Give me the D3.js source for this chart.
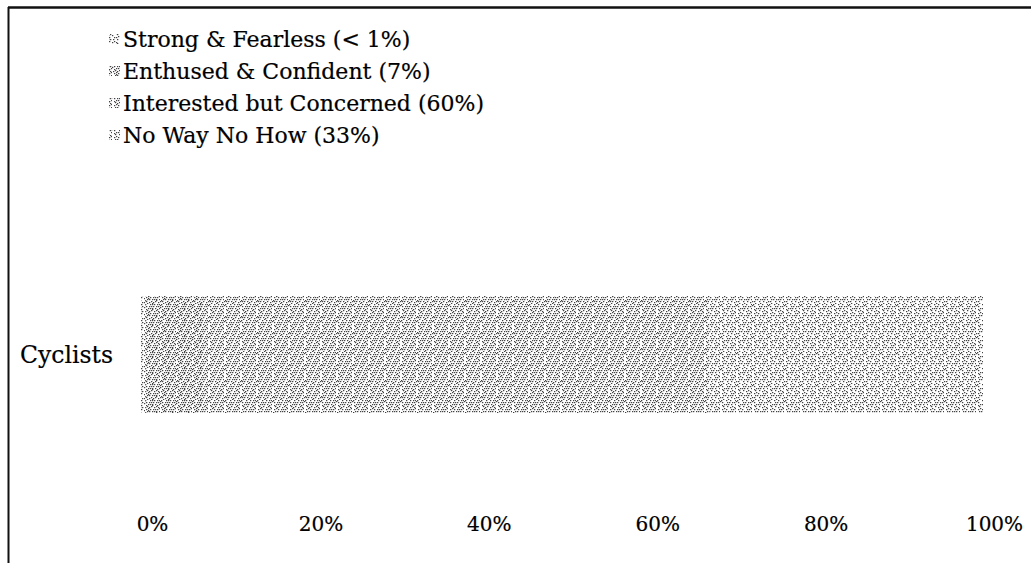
<!DOCTYPE html>
<html><head><meta charset="utf-8">
<script src="https://cdn.jsdelivr.net/npm/d3@7"></script>
<style>
html,body{margin:0;padding:0;background:#fff;}
svg{display:block;}
text{font-family:"DejaVu Serif","Liberation Serif",serif;fill:#000;stroke:#000;stroke-width:0.2px;}
</style></head>
<body>
<svg id="c" width="1031" height="563"></svg>
<script>
const categories = ["Cyclists"];
const seriesNames = ["Strong & Fearless (< 1%)", "Enthused & Confident (7%)", "Interested but Concerned (60%)", "No Way No How (33%)"];
const seriesValues = [0.5, 7, 60, 32.5];
const tickValues = [0, 20, 40, 60, 80, 100];
const tickLabels = ["0%", "20%", "40%", "60%", "80%", "100%"];

const svg = d3.select("#c");
const W = 1031, H = 563;
svg.append("rect").attr("width", W).attr("height", H).attr("fill", "#fff");

// stipple textures (decorative only): low-discrepancy dot placement
const defs = svg.append("defs");
const texDensity = [36, 54, 48, 40];
texDensity.forEach((n, i) => {
  const size = 16;
  const pat = defs.append("pattern").attr("id", "p" + i).attr("patternUnits", "userSpaceOnUse")
    .attr("width", size).attr("height", size);
  pat.append("rect").attr("width", size).attr("height", size).attr("fill", "#fff");
  const g1 = 0.7548776662, g2 = 0.5698402910;
  for (let k = 0; k < n; k++) {
    const px = Math.floor(((0.5 + g1 * (k + 1 + i * 7)) % 1) * size);
    const py = Math.floor(((0.5 + g2 * (k + 1 + i * 7)) % 1) * size);
    pat.append("rect").attr("x", px).attr("y", py).attr("width", 1.3).attr("height", 1.2).attr("fill", "#444");
  }
});

const x = d3.scaleLinear().domain([0, 100]).range([141, 983]);
const y = d3.scaleBand().domain(categories).range([296, 413]).padding(0);

// stacked bar
let acc = 0;
const segs = seriesValues.map((v, i) => { const s = {i, x0: acc, x1: acc + v}; acc += v; return s; });
svg.append("g").selectAll("rect").data(segs).join("rect")
  .attr("x", d => x(d.x0)).attr("width", d => x(d.x1) - x(d.x0))
  .attr("y", y("Cyclists")).attr("height", y.bandwidth())
  .attr("fill", d => `url(#p${d.i})`);

// category label
svg.append("text").attr("x", 20).attr("y", y("Cyclists") + y.bandwidth() / 2)
  .attr("dy", "0.35em").attr("font-size", 23.5).text(categories[0]);

// x axis labels
const ax = d3.axisBottom(x).tickValues(tickValues).tickSize(0).tickFormat((d, i) => tickLabels[i]);
const gx = svg.append("g").attr("transform", "translate(11,514)").call(ax);
gx.select(".domain").remove();
gx.selectAll("text").attr("font-size", 20).attr("fill", "#000")
  .style("font-family", '"DejaVu Serif","Liberation Serif",serif');

// legend
const leg = svg.append("g");
seriesNames.forEach((n, i) => {
  const cy = 39 + i * 32;
  leg.append("rect").attr("x", 109).attr("y", cy - 5).attr("width", 11).attr("height", 10)
    .attr("fill", `url(#p${i})`);
  leg.append("text").attr("x", 123).attr("y", cy).attr("dy", "0.35em").attr("font-size", 22).text(n);
});

// frame lines
svg.append("line").attr("x1", 8).attr("x2", W).attr("y1", 7.5).attr("y2", 7.5).attr("stroke", "#111").attr("stroke-width", 2.5);
svg.append("line").attr("x1", 8.5).attr("x2", 8.5).attr("y1", 7).attr("y2", H).attr("stroke", "#111").attr("stroke-width", 2);
</script>
</body></html>
